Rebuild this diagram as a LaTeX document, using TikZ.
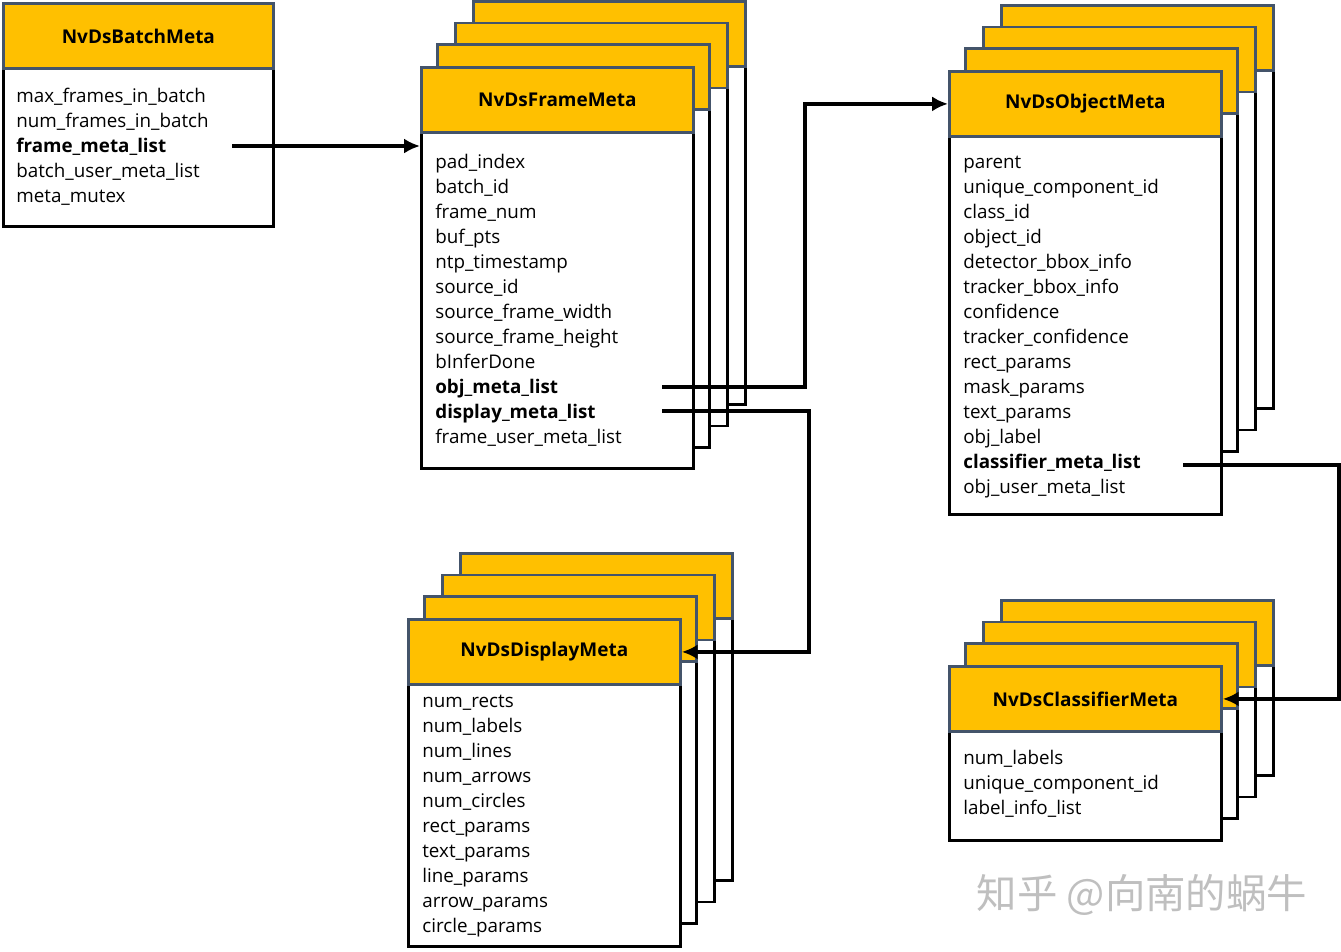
\documentclass[tikz,border=0pt]{standalone}
\usepackage{fontspec}
\setmainfont{Open Sans}
\newfontfamily\cjk{Noto Sans CJK SC}
\usetikzlibrary{arrows.meta}
\definecolor{hdfill}{HTML}{FFC000}
\definecolor{hdline}{HTML}{44546A}
\tikzset{
	headline/.style={draw=hdline, fill=hdfill, line width=1.6pt},
	bodyline/.style={draw=black, fill=white, line width=1.6pt},
	headbox/.style={headline, anchor=north west, inner sep=0pt, minimum width=5.44cm, minimum height=1.3cm, font=\fontsize{10.8}{13}\selectfont\bfseries},
	bodybox/.style={bodyline, anchor=north west, inner sep=0pt, minimum width=5.44cm},
	item/.style={anchor=base west, inner sep=0pt, font=\fontsize{10.7}{13}\selectfont},
	link/.style={line width=1.9pt, -{Latex[length=9pt,width=8.5pt]}},
	wmtext/.style={text=black!25, font=\cjk\fontsize{23}{25}\selectfont}
}
\begin{document}
\begin{tikzpicture}[x=0.02cm,y=-0.02cm]
	\useasboundingbox (0,0) rectangle (1341,951);
	\foreach \x/\y/\h in {420/66/403, 948/70/403, 407/618/327, 948/665/175}
		\foreach \k in {3,2,1}
		{
			\begin{scope}[shift={(\x+\k*17.7,\y-\k*21.5)}]
			\draw[bodyline] (0,65) rectangle (272,\h);
			\draw[headline] (0,0) rectangle (272,65);
			\end{scope}
		}
	\node[bodybox, minimum width=5.4cm, minimum height=3.18cm] (batchBody) at (2,66) {};
	\node[headbox, minimum width=5.4cm] (batchHead) at (2,2) {NvDsBatchMeta};
	\node[bodybox, minimum height=6.72cm] (frameBody) at (420,131) {};
	\node[headbox] (frameHead) at (420,66) {NvDsFrameMeta};
	\node[bodybox, minimum height=7.56cm] (objBody) at (948,135) {};
	\node[headbox] (objHead) at (948,70) {NvDsObjectMeta};
	\node[bodybox, minimum height=5.26cm] (dispBody) at (407,682) {};
	\node[headbox] (dispHead) at (407,618) {NvDsDisplayMeta};
	\node[bodybox, minimum height=2.18cm] (clsBody) at (948,730) {};
	\node[headbox] (clsHead) at (948,665) {NvDsClassifierMeta};
	\foreach [count=\i] \t in {max\_frames\_in\_batch, num\_frames\_in\_batch, \textbf{frame\_meta\_list}, batch\_user\_meta\_list, meta\_mutex}
		\node[item] (batch-\i) at (16,77+\i*25) {\t};
	\foreach [count=\i] \t in {pad\_index, batch\_id, frame\_num, buf\_pts, ntp\_timestamp, source\_id, source\_frame\_width, source\_frame\_height, bInferDone, \textbf{obj\_meta\_list}, \textbf{display\_meta\_list}, frame\_user\_meta\_list}
		\node[item] (frame-\i) at (435,143+\i*25) {\t};
	\foreach [count=\i] \t in {parent, unique\_component\_id, class\_id, object\_id, detector\_bbox\_info, tracker\_bbox\_info, confidence, tracker\_confidence, rect\_params, mask\_params, text\_params, obj\_label, \textbf{classifier\_meta\_list}, obj\_user\_meta\_list}
		\node[item] (obj-\i) at (963,143+\i*25) {\t};
	\foreach [count=\i] \t in {num\_rects, num\_labels, num\_lines, num\_arrows, num\_circles, rect\_params, text\_params, line\_params, arrow\_params, circle\_params}
		\node[item] (disp-\i) at (422,682+\i*25) {\t};
	\foreach [count=\i] \t in {num\_labels, unique\_component\_id, label\_info\_list}
		\node[item] (cls-\i) at (963,739+\i*25) {\t};
	\coordinate (batchOut) at (232,146);
	\coordinate (objOut) at (662,387);
	\coordinate (dispOut) at (662,411);
	\coordinate (clsOut) at (1183,465);
	\draw[link] (batchOut) -- (batchOut -| frameBody.west);
	\draw[link] (objOut) -- ++(143,0) |- (objHead.west);
	\draw[link] (dispOut) -- ++(147,0) |- (dispHead.east);
	\draw[link] (clsOut) -- ++(156,0) |- (clsHead.east);
	\node[wmtext] (zhihu) at (1142,895) {知乎 @向南的蜗牛};
\end{tikzpicture}
\end{document}
